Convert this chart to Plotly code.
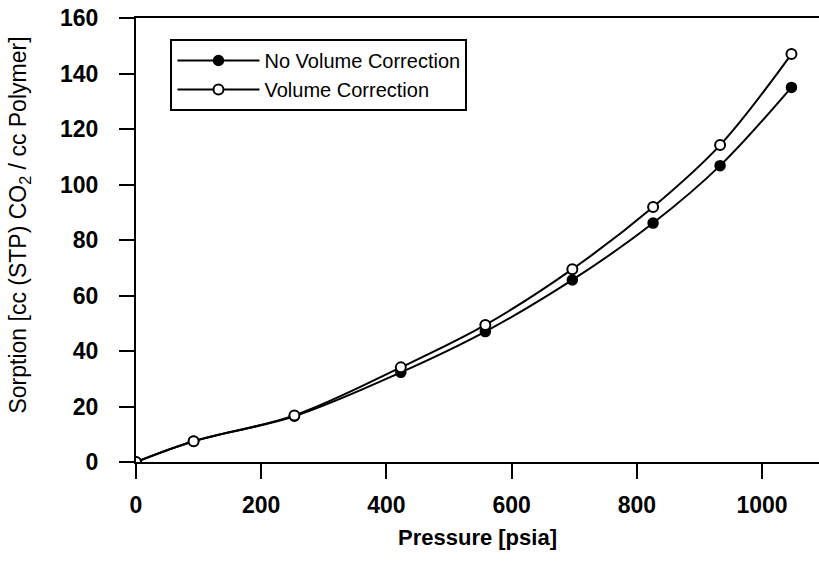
import plotly.graph_objects as go

pressure = [0, 92, 253, 423, 558, 697, 826, 933, 1047]
no_corr = [0, 7.5, 16.5, 32.3, 47.0, 65.6, 86.1, 106.8, 135.0]
vol_corr = [0, 7.5, 16.8, 34.1, 49.4, 69.5, 91.9, 114.2, 147.0]

series_names = ["No Volume Correction", "Volume Correction"]
x_ticks = [0, 200, 400, 600, 800, 1000]
y_ticks = [0, 20, 40, 60, 80, 100, 120, 140, 160]
x_title = "<b>Pressure [psia]</b>"
y_title = "Sorption [cc (STP) CO<sub>2</sub> / cc Polymer]"

FONT = "Liberation Sans, Arial, sans-serif"

fig = go.Figure()
fig.add_trace(go.Scatter(
    x=pressure, y=no_corr, name=series_names[0], mode="lines+markers",
    line=dict(color="black", width=2, shape="spline", smoothing=1.0),
    marker=dict(symbol="circle", size=10, color="black", line=dict(color="black", width=1.5)),
))
fig.add_trace(go.Scatter(
    x=pressure, y=vol_corr, name=series_names[1], mode="lines+markers",
    line=dict(color="black", width=2, shape="spline", smoothing=1.0),
    marker=dict(symbol="circle", size=10, color="white", line=dict(color="black", width=2)),
))

fig.update_layout(
    width=819, height=569,
    margin=dict(l=135.5, r=0, t=18, b=107, autoexpand=False),
    paper_bgcolor="white", plot_bgcolor="white",
    font=dict(family=FONT, color="black"),
    showlegend=True,
    legend=dict(
        x=0.0505, y=0.9527, xanchor="left", yanchor="top",
        bordercolor="black", borderwidth=2, bgcolor="white",
        font=dict(size=20, color="black", family=FONT),
        itemwidth=82, tracegroupgap=0,
    ),
    xaxis=dict(
        range=[0, 1091], tickvals=x_ticks, ticktext=[str(v) for v in x_ticks],
        automargin=False,
        showgrid=False, zeroline=False, showline=True, linecolor="black", linewidth=2,
        mirror=True, ticks="outside", ticklen=15, tickwidth=2, tickcolor="black",
        ticklabelstandoff=6,
        tickfont=dict(size=23, family=FONT, weight="bold"),
    ),
    yaxis=dict(
        range=[0, 160], tickvals=y_ticks, ticktext=[str(v) for v in y_ticks],
        automargin=False,
        showgrid=False, zeroline=False, showline=True, linecolor="black", linewidth=2,
        ticks="outside", ticklen=15, tickwidth=2, tickcolor="black",
        ticklabelstandoff=16,
        tickfont=dict(size=23, family=FONT, weight="bold"),
    ),
    annotations=[
        dict(text=x_title, xref="paper", yref="paper", x=0.5, y=-0.169,
             xanchor="center", yanchor="middle", showarrow=False,
             font=dict(size=22, family=FONT, color="black")),
        dict(text=y_title, xref="paper", yref="paper", x=-0.1704, y=0.534,
             xanchor="center", yanchor="middle", textangle=-90, showarrow=False,
             font=dict(size=23, family=FONT, color="black")),
    ],
)

fig.write_html("out.html", config={"displayModeBar": False},
               post_script="document.body.style.margin='0';")
